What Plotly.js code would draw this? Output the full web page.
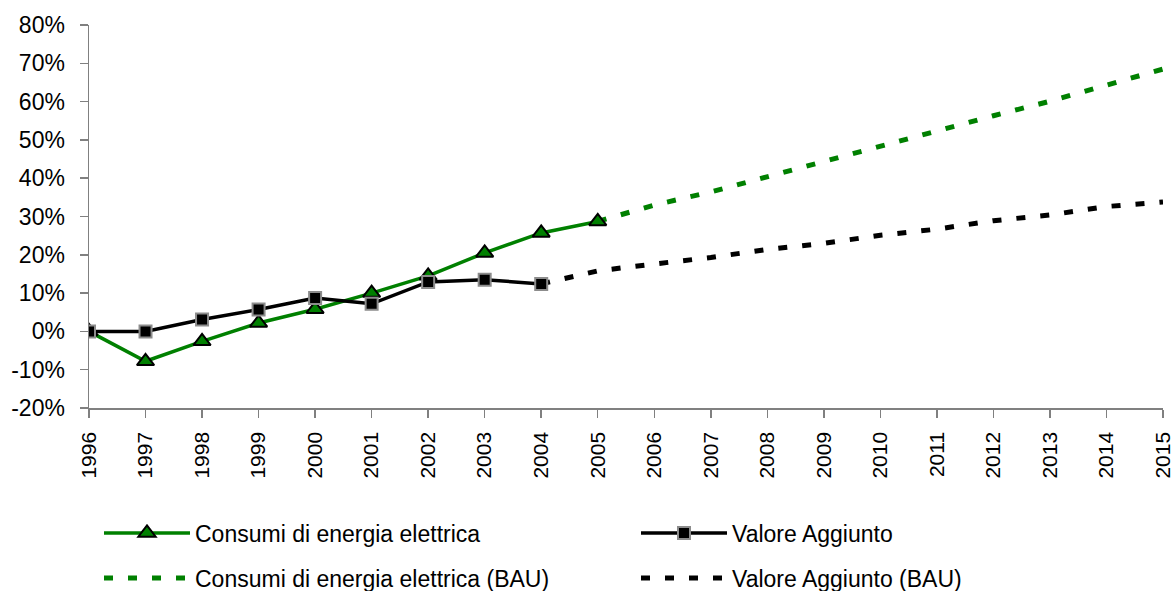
<!DOCTYPE html>
<html>
<head>
<meta charset="utf-8">
<script src="https://cdn.plot.ly/plotly-3.0.1.min.js"></script>
<style>html,body{margin:0;padding:0;background:#fff;}#chart{width:1174px;height:591px;}</style>
</head>
<body>
<div id="chart"></div>
<script>
var yearsHist = [1996,1997,1998,1999,2000,2001,2002,2003,2004,2005];
var consumi = [0,-7.8,-2.6,2.2,5.8,10.0,14.5,20.5,25.7,28.7];
var yearsVA = [1996,1997,1998,1999,2000,2001,2002,2003,2004];
var valoreAggiunto = [0,0,3.1,5.7,8.7,7.2,12.9,13.5,12.4];
var yearsConsumiBAU = [2005,2006,2007,2008,2009,2010,2011,2012,2013,2014,2015];
var consumiBAU = [28.7,33.0,36.4,40.4,44.5,48.3,52.2,56.3,60.1,64.4,68.5];
var yearsVABAU = [2004,2005,2006,2007,2008,2009,2010,2011,2012,2013,2014,2015];
var valoreAggiuntoBAU = [12.4,15.8,17.6,19.3,21.4,23.0,25.1,26.7,28.9,30.4,32.6,33.8];
var tickYears = [1996,1997,1998,1999,2000,2001,2002,2003,2004,2005,2006,2007,2008,2009,2010,2011,2012,2013,2014,2015];
var tickLabels = tickYears.map(String);
var yTicks = [-20,-10,0,10,20,30,40,50,60,70,80];
var yTickLabels = yTicks.map(function(v){return v+'%';});

var GREEN = '#008000';
var traces = [
  {x: yearsConsumiBAU, y: consumiBAU, name: 'Consumi di energia elettrica (BAU)', mode: 'lines', legend: 'legend3',
   line: {color: GREEN, width: 5, dash: '9px,15px'}},
  {x: yearsVABAU, y: valoreAggiuntoBAU, name: 'Valore Aggiunto (BAU)', mode: 'lines', legend: 'legend4',
   line: {color: '#000', width: 5, dash: '9px,15px'}},
  {x: yearsHist, y: consumi, name: 'Consumi di energia elettrica', mode: 'lines+markers', legend: 'legend',
   line: {color: GREEN, width: 3.5}, marker: {symbol: 'triangle-up', size: 15, color: GREEN, line: {color: '#000', width: 2}}},
  {x: yearsVA, y: valoreAggiunto, name: 'Valore Aggiunto', mode: 'lines+markers', legend: 'legend2',
   line: {color: '#000', width: 3.5}, marker: {symbol: 'square', size: 12, color: '#000', line: {color: '#8c8c8c', width: 2}}}
];

var FONT = 'Liberation Sans, Arial, sans-serif';
var legendCommon = {orientation: 'h', xanchor: 'left', yanchor: 'middle', yref: 'container', itemwidth: 86,
  font: {family: FONT, size: 23, color: '#000'}, bgcolor: 'rgba(0,0,0,0)', itemclick: false};
var col1 = (99 - 89) / 1074, col2 = (636 - 89) / 1074;
var row1 = 1 - 533 / 591, row2 = 1 - 578 / 591;
var layout = {
  width: 1174, height: 591,
  margin: {l: 89, r: 11, t: 25, b: 183, autoexpand: false},
  paper_bgcolor: '#fff', plot_bgcolor: '#fff',
  font: {family: FONT, color: '#000'},
  showlegend: true,
  legend: Object.assign({}, legendCommon, {x: col1, y: row1}),
  legend2: Object.assign({}, legendCommon, {x: col2, y: row1}),
  legend3: Object.assign({}, legendCommon, {x: col1, y: row2}),
  legend4: Object.assign({}, legendCommon, {x: col2, y: row2}),
  xaxis: {range: [1996, 2015], tickmode: 'array', tickvals: tickYears, ticktext: tickLabels, tickangle: -90, automargin: false,
    ticks: 'outside', ticklen: 8, tickcolor: '#808080', tickwidth: 1.5, showline: true, linecolor: '#808080', linewidth: 1.5,
    showgrid: false, zeroline: false, tickfont: {family: FONT, size: 21, color: '#000'}, ticklabelstandoff: 6},
  yaxis: {range: [-20, 80], tickmode: 'array', tickvals: yTicks, ticktext: yTickLabels, automargin: false,
    ticks: 'outside', ticklen: 8, tickcolor: '#808080', tickwidth: 1.5, showline: true, linecolor: '#808080', linewidth: 1.5,
    showgrid: false, zeroline: false, tickfont: {family: FONT, size: 23, color: '#000'}, ticklabelstandoff: 10}
};
Plotly.newPlot('chart', traces, layout, {staticPlot: true, displayModeBar: false});
</script>
</body>
</html>
